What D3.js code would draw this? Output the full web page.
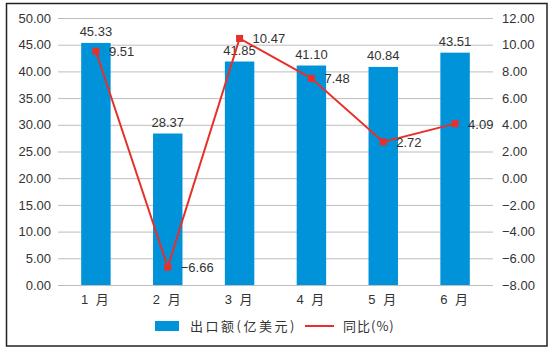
<!DOCTYPE html>
<html>
<head>
<meta charset="utf-8">
<script src="https://cdn.jsdelivr.net/npm/d3@7/dist/d3.min.js"></script>
<style>
  body { margin: 0; background: #fff; }
  text { font-family: "Liberation Sans", Arial, "Noto Sans CJK SC", sans-serif; }
</style>
</head>
<body>
<svg id="chart" width="552" height="352"></svg>
<script>
// 数据
var months = ["1 月", "2 月", "3 月", "4 月", "5 月", "6 月"];
var exportValues = [45.33, 28.37, 41.85, 41.10, 40.84, 43.51];
var yoyValues = [9.51, -6.66, 10.47, 7.48, 2.72, 4.09];
var leftTicks = [0, 5, 10, 15, 20, 25, 30, 35, 40, 45, 50];
var rightTicks = [-8, -6, -4, -2, 0, 2, 4, 6, 8, 10, 12];
var legendNames = ["出口额(亿美元)", "同比(%)"];

var blue = "#0093d9", red = "#e8302a", textColor = "#333";

var svg = d3.select("#chart");

// 外框
svg.append("rect")
   .attr("x", 6.5).attr("y", 3.5)
   .attr("width", 540.5).attr("height", 342.5)
   .attr("fill", "none").attr("stroke", "#222").attr("stroke-width", 1.5);

var plotLeft = 58, plotRight = 493, plotTop = 18, plotBottom = 285;

var x = d3.scaleBand().domain(months).range([plotLeft + 2, plotRight - 2]);
var yL = d3.scaleLinear().domain([0, 50]).range([plotBottom, plotTop]);
var yR = d3.scaleLinear().domain([-8, 12]).range([plotBottom, plotTop]);

// 网格线
svg.append("g").selectAll("line")
   .data(leftTicks).enter().append("line")
   .attr("x1", plotLeft).attr("x2", plotRight)
   .attr("y1", function(d){ return yL(d) + 0.5; })
   .attr("y2", function(d){ return yL(d) + 0.5; })
   .attr("stroke", "#bdbdbd").attr("stroke-width", 1);

// 左轴
var axisL = svg.append("g").attr("transform", "translate(" + plotLeft + ",0)")
   .call(d3.axisLeft(yL).tickValues(leftTicks).tickFormat(d3.format(".2f")).tickSize(0).tickPadding(7));
axisL.select(".domain").remove();
axisL.selectAll("text").attr("font-size", "13px").attr("fill", textColor)
   .style("font-family", "Liberation Sans, Arial, sans-serif");

// 右轴
var fmtR = function(d){ return d3.format(".2f")(d).replace("-", "\u2212"); };
var axisR = svg.append("g").attr("transform", "translate(" + plotRight + ",0)")
   .call(d3.axisRight(yR).tickValues(rightTicks).tickFormat(fmtR).tickSize(0).tickPadding(9));
axisR.select(".domain").remove();
axisR.selectAll("text").attr("font-size", "13px").attr("fill", textColor)
   .style("font-family", "Liberation Sans, Arial, sans-serif");

// X 轴标签
var axisX = svg.append("g").attr("transform", "translate(0," + plotBottom + ")")
   .call(d3.axisBottom(x).tickSize(0).tickPadding(10)
      .tickFormat(function(d){ return d.replace(" ", "\u00a0"); }));
axisX.select(".domain").remove();
axisX.selectAll("text").attr("font-size", "13px").attr("fill", textColor)
   .attr("letter-spacing", "2px")
   .style("font-family", "Liberation Sans, Arial, Noto Sans CJK SC, sans-serif");

// 柱子
var barW = x.bandwidth() * 0.41;
svg.append("g").selectAll("rect")
   .data(exportValues).enter().append("rect")
   .attr("x", function(d, i){ return x(months[i]) + (x.bandwidth() - barW) / 2; })
   .attr("y", function(d){ return yL(d); })
   .attr("width", barW)
   .attr("height", function(d){ return plotBottom - yL(d); })
   .attr("fill", blue);

// 柱子标签
svg.append("g").selectAll("text")
   .data(exportValues).enter().append("text")
   .attr("x", function(d, i){ return x(months[i]) + x.bandwidth() / 2; })
   .attr("y", function(d){ return yL(d) - 7; })
   .attr("text-anchor", "middle")
   .attr("font-size", "13px").attr("fill", textColor)
   .text(function(d){ return d.toFixed(2); });

// 折线
var line = d3.line()
   .x(function(d, i){ return x(months[i]) + x.bandwidth() / 2; })
   .y(function(d){ return yR(d); });
svg.append("path").datum(yoyValues)
   .attr("d", line).attr("fill", "none")
   .attr("stroke", red).attr("stroke-width", 2);

svg.append("g").selectAll("rect")
   .data(yoyValues).enter().append("rect")
   .attr("x", function(d, i){ return x(months[i]) + x.bandwidth() / 2 - 3.5; })
   .attr("y", function(d){ return yR(d) - 3.5; })
   .attr("width", 7).attr("height", 7)
   .attr("fill", red);

svg.append("g").selectAll("text")
   .data(yoyValues).enter().append("text")
   .attr("x", function(d, i){ return x(months[i]) + x.bandwidth() / 2 + 13; })
   .attr("y", function(d){ return yR(d) + 5; })
   .attr("font-size", "13px").attr("fill", textColor)
   .text(function(d){ return d.toFixed(2).replace("-", "\u2212"); });

// 图例
var lg = svg.append("g");
lg.append("rect").attr("x", 155).attr("y", 321).attr("width", 24).attr("height", 10).attr("fill", blue);
lg.append("text").attr("x", 190).attr("y", 331)
   .attr("font-size", "13px").attr("fill", textColor).attr("letter-spacing", "2.5px")
   .style("font-family", "Noto Sans CJK SC, sans-serif")
   .text(legendNames[0]);
lg.append("line").attr("x1", 305).attr("x2", 334).attr("y1", 326).attr("y2", 326)
   .attr("stroke", red).attr("stroke-width", 2);
lg.append("text").attr("x", 343).attr("y", 331)
   .attr("font-size", "13px").attr("fill", textColor).attr("letter-spacing", "1px")
   .style("font-family", "Noto Sans CJK SC, sans-serif")
   .text(legendNames[1]);
</script>
</body>
</html>
